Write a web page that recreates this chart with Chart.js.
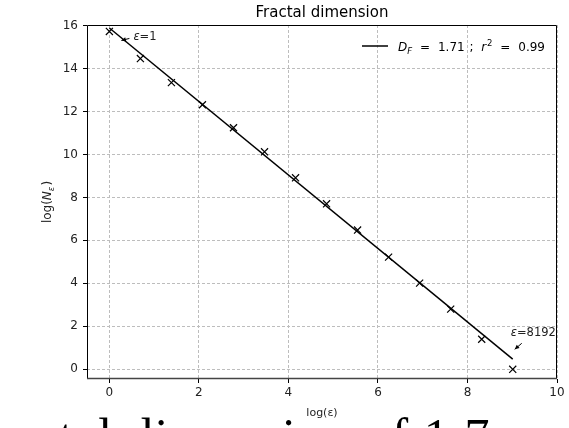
<!DOCTYPE html>
<html>
<head>
<meta charset="utf-8">
<script src="https://cdn.jsdelivr.net/npm/chart.js@4.4.0/dist/chart.umd.min.js"></script>
<style>
  html, body { margin: 0; padding: 0; background: #fff; overflow: hidden; }
  #c { display: block; }
</style>
</head>
<body>
<canvas id="c" width="569" height="428"></canvas>
<script>
// ---- data ----
const logEps = [0, 0.693, 1.386, 2.079, 2.773, 3.466, 4.159, 4.852, 5.545, 6.238, 6.931, 7.625, 8.318, 9.011];
const logN   = [15.72, 14.46, 13.34, 12.31, 11.24, 10.12, 8.91, 7.70, 6.48, 5.22, 4.01, 2.80, 1.40, 0.0];
const fitSlope = -1.71;
const fitIntercept = 15.88;
const fitR2 = 0.99;
const xTicks = [0, 2, 4, 6, 8, 10];
const yTicks = [0, 2, 4, 6, 8, 10, 12, 14, 16];
const titleText = "Fractal dimension";
const xLabel = "log(\u03B5)";
const annFirst = "1";
const annLast = "8192";
const captionText = "fractal dimension of 1.7";

const pts = logEps.map((x, i) => ({ x: x, y: logN[i] }));
const fitPts = [logEps[0], logEps[logEps.length - 1]].map(x => ({ x: x, y: fitIntercept + fitSlope * x }));

const FONT = "'DejaVu Sans', sans-serif";

function arrow(ctx, x1, y1, x2, y2) {
  ctx.save();
  ctx.strokeStyle = '#000'; ctx.fillStyle = '#000'; ctx.lineWidth = 1;
  ctx.beginPath(); ctx.moveTo(x1, y1); ctx.lineTo(x2, y2); ctx.stroke();
  const a = Math.atan2(y2 - y1, x2 - x1), L = 5, w = 0.45;
  ctx.beginPath();
  ctx.moveTo(x2, y2);
  ctx.lineTo(x2 - L * Math.cos(a - w), y2 - L * Math.sin(a - w));
  ctx.lineTo(x2 - L * Math.cos(a + w), y2 - L * Math.sin(a + w));
  ctx.closePath(); ctx.fill();
  ctx.restore();
}

const deco = {
  id: 'deco',
  afterDraw(chart) {
    const ctx = chart.ctx, a = chart.chartArea;
    const xs = chart.scales.x, ys = chart.scales.y;
    ctx.save();
    // frame
    ctx.strokeStyle = '#000'; ctx.lineWidth = 1;
    ctx.beginPath();
    ctx.moveTo(a.left + 0.5, a.bottom); ctx.lineTo(a.left + 0.5, a.top + 0.5);
    ctx.lineTo(a.right - 0.5, a.top + 0.5); ctx.lineTo(a.right - 0.5, a.bottom);
    ctx.stroke();
    ctx.strokeStyle = '#444'; ctx.lineWidth = 1.6;
    ctx.beginPath(); ctx.moveTo(a.left, a.bottom - 0.5); ctx.lineTo(a.right, a.bottom - 0.5); ctx.stroke();

    // title
    ctx.fillStyle = '#000';
    ctx.font = '15px ' + FONT;
    ctx.textAlign = 'center'; ctx.textBaseline = 'alphabetic';
    ctx.fillText(titleText, (a.left + a.right) / 2, 17);
    // x label
    ctx.font = '11px ' + FONT;
    ctx.fillStyle = '#222';
    ctx.fillText(xLabel, (a.left + a.right) / 2, 416);
    // y label
    ctx.save();
    ctx.translate(51, (a.top + a.bottom) / 2);
    ctx.rotate(-Math.PI / 2);
    ctx.textAlign = 'left';
    ctx.font = '12px ' + FONT;
    const wl = ctx.measureText('log(').width;
    ctx.font = 'italic 12px ' + FONT;
    const wn = ctx.measureText('N').width;
    ctx.font = 'italic 8.5px ' + FONT;
    const we = ctx.measureText('\u03B5').width;
    ctx.font = '12px ' + FONT;
    const wp = ctx.measureText(')').width;
    let sx = -(wl + wn + we + 1 + wp) / 2;
    ctx.font = '12px ' + FONT; ctx.fillText('log(', sx, 0);
    ctx.font = 'italic 12px ' + FONT; ctx.fillText('N', sx + wl, 0);
    ctx.font = 'italic 8.5px ' + FONT; ctx.fillText('\u03B5', sx + wl + wn, 3);
    ctx.font = '12px ' + FONT; ctx.fillText(')', sx + wl + wn + we + 1, 0);
    ctx.restore();

    // legend
    ctx.fillStyle = '#000';
    const ly = 46;
    ctx.strokeStyle = '#000'; ctx.lineWidth = 1.5;
    ctx.beginPath(); ctx.moveTo(362, ly); ctx.lineTo(388, ly); ctx.stroke();
    ctx.textAlign = 'left'; ctx.textBaseline = 'alphabetic';
    const lb = ly + 4.5;
    const parts = [
      { t: 'D', f: 'italic 12px ', dy: 0, gap: 0 },
      { t: 'F', f: 'italic 8.5px ', dy: 3, gap: 0 },
      { t: '=', f: '12px ', dy: 0, gap: 1 },
      { t: (-fitSlope).toFixed(2), f: '12px ', dy: 0, gap: 1 },
      { t: ';', f: '12px ', dy: 0, gap: 0.6 },
      { t: 'r', f: 'italic 12px ', dy: 0, gap: 1 },
      { t: '2', f: '8.5px ', dy: -5, gap: 0.1 },
      { t: '=', f: '12px ', dy: 0, gap: 1 },
      { t: fitR2.toFixed(2), f: '12px ', dy: 0, gap: 1 }
    ];
    let tot = 0, gsum = 0;
    parts.forEach(p => { ctx.font = p.f + FONT; p.w = ctx.measureText(p.t).width; tot += p.w; gsum += p.gap; });
    const startX = 398, endX = 545;
    const g = (endX - startX - tot) / gsum;
    let px = startX;
    parts.forEach(p => { px += p.gap * g; ctx.font = p.f + FONT; ctx.fillText(p.t, px, lb + p.dy); px += p.w; });

    // annotations
    const fx = xs.getPixelForValue(logEps[0]), fy = ys.getPixelForValue(logN[0]);
    ctx.fillStyle = '#222';
    let tx = fx + 24, ty = fy + 9;
    ctx.font = 'italic 11.5px ' + FONT; ctx.fillText('\u03B5', tx, ty); tx += ctx.measureText('\u03B5').width;
    ctx.font = '11.5px ' + FONT; ctx.fillText('=' + annFirst, tx, ty);
    arrow(ctx, fx + 20, fy + 7, fx + 12, fy + 9);

    const n = logEps.length - 1;
    const ex = xs.getPixelForValue(logEps[n]), ey = ys.getPixelForValue(logN[n]);
    tx = ex - 2; ty = ey - 33;
    ctx.font = 'italic 11.5px ' + FONT; ctx.fillText('\u03B5', tx, ty); tx += ctx.measureText('\u03B5').width;
    ctx.font = '11.5px ' + FONT; ctx.fillText('=' + annLast, tx, ty);
    arrow(ctx, ex + 9, ey - 26, ex + 2, ey - 20);

    // cropped caption below the chart
    ctx.fillStyle = '#000';
    ctx.font = '50px "Liberation Serif", serif';
    try { ctx.letterSpacing = '1.6px'; } catch (e) {}
    ctx.fillText(captionText, -25, 453);
    ctx.restore();
  }
};

new Chart(document.getElementById('c'), {
  type: 'scatter',
  data: {
    datasets: [
      { data: pts, showLine: false, pointStyle: 'crossRot', pointRadius: 5, pointHoverRadius: 5,
        borderColor: '#000', backgroundColor: '#000', borderWidth: 1.2 },
      { data: fitPts, showLine: true, pointRadius: 0, borderColor: '#000', borderWidth: 1.5, fill: false }
    ]
  },
  options: {
    responsive: false, animation: false, devicePixelRatio: 1,
    layout: { padding: { left: 0, top: 25, right: 12, bottom: 0 } },
    plugins: { legend: { display: false }, title: { display: false }, tooltip: { enabled: false } },
    scales: {
      x: {
        type: 'linear', min: -0.5, max: 10,
        afterBuildTicks: s => { s.ticks = xTicks.map(v => ({ value: v })); },
        afterFit: s => { s.height = 49; },
        grid: { color: '#bdbdbd', tickColor: '#000', tickLength: 4, tickBorderDash: [] },
        border: { display: false, dash: [3, 2] },
        ticks: { color: '#222', font: { family: FONT, size: 12 }, padding: 3, maxRotation: 0,
                 callback: v => String(v) }
      },
      y: {
        type: 'linear', min: -0.45, max: 16.02,
        afterBuildTicks: s => { s.ticks = yTicks.map(v => ({ value: v })); },
        afterFit: s => { s.width = 87; },
        grid: { color: '#bdbdbd', tickColor: '#000', tickLength: 4, tickBorderDash: [] },
        border: { display: false, dash: [3, 2] },
        ticks: { color: '#222', font: { family: FONT, size: 12 }, padding: 5,
                 callback: v => String(v) }
      }
    }
  },
  plugins: [deco]
});
</script>
</body>
</html>
